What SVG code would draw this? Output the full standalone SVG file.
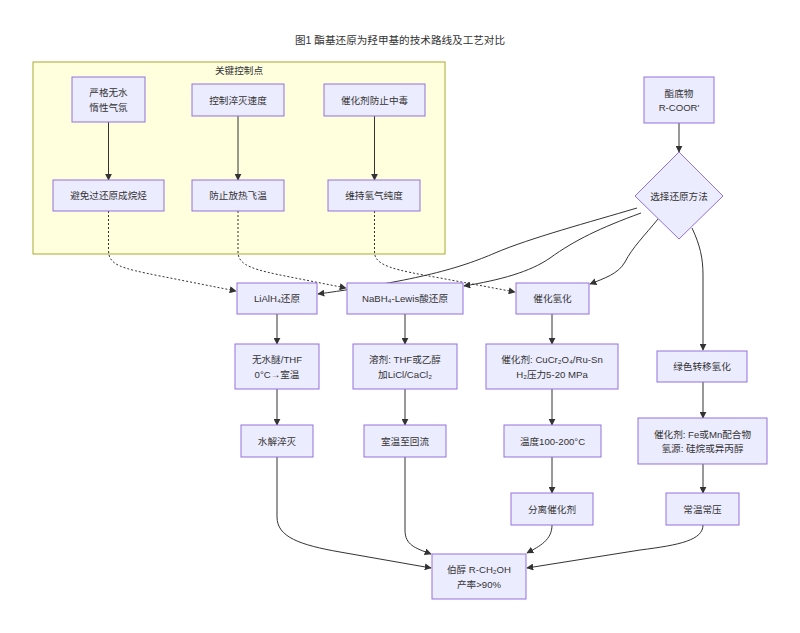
<svg xmlns="http://www.w3.org/2000/svg" width="800" height="633" viewBox="0 0 800 633">
<defs>
<marker id="arr" viewBox="0 0 10 10" refX="9" refY="5" markerWidth="7" markerHeight="7" markerUnits="userSpaceOnUse" orient="auto">
<path d="M0,0 L10,5 L0,10 z" fill="#333333"/>
</marker>
</defs>
<style>
text{font-family:"Liberation Sans","Noto Sans CJK SC",sans-serif;font-size:9.6px;fill:#333333;text-anchor:middle;dominant-baseline:central}
.title{font-size:10.6px}
.node rect,.node polygon{fill:#ECECFF;stroke:#9370DB;stroke-width:1}
.cluster{fill:#ffffde;stroke:#aaaa33;stroke-width:1}
.edge{fill:none;stroke:#333333;stroke-width:1;marker-end:url(#arr)}
.dot{stroke-dasharray:2 2}
</style>
<rect width="800" height="633" fill="#ffffff"/>
<text class="title" x="400" y="40">图1 酯基还原为羟甲基的技术路线及工艺对比</text>
<g id="cluster-key">
<rect class="cluster" x="33" y="62" width="412" height="192"/>
<text x="239" y="70">关键控制点</text>
</g>
<g id="connectors">
<path class="edge" d="M108.5,122 V180"/>
<path class="edge" d="M238,116 V180"/>
<path class="edge" d="M374.5,116 V180"/>
<path class="edge" d="M679,123 V152"/>
<path class="edge dot" d="M108.5,211 V250 C108.5,265 120,268 160,276 L236,291"/>
<path class="edge dot" d="M238,211 V252 C238,266 255,270 290,277 L346,288"/>
<path class="edge dot" d="M374.5,211 V252 C374.5,266 395,270 440,278 L515,292"/>
<path class="edge" d="M637,208 C590,222 530,238 495,253 C460,268 420,280 318,294"/>
<path class="edge" d="M641,213 C600,228 575,240 550,258 C530,272 500,280 464,286"/>
<path class="edge" d="M658,219 C645,235 632,248 625,262 C618,274 605,278 590,284"/>
<path class="edge" d="M692,228 C700,245 703,258 703,275 L703,350"/>
<path class="edge" d="M277,314 V344"/>
<path class="edge" d="M277,389 V425"/>
<path class="edge" d="M405,314 V344"/>
<path class="edge" d="M405,389 V425"/>
<path class="edge" d="M552,314 V344"/>
<path class="edge" d="M552,389 V425"/>
<path class="edge" d="M552,457 V493"/>
<path class="edge" d="M703,382 V418"/>
<path class="edge" d="M703,464 V493"/>
<path class="edge" d="M277,457 V517 C277,537 300,545 340,552 L431,568"/>
<path class="edge" d="M405,457 V530 C405,545 415,548 431,554"/>
<path class="edge" d="M552,525 C552,540 540,546 527,553"/>
<path class="edge" d="M703,525 C703,540 680,545 640,550 L527,568"/>
</g>
<g id="n-anhydrous" class="node"><rect x="72" y="77" width="73" height="45"/><text x="108.5" y="92">严格无水</text><text x="108.5" y="107">惰性气氛</text></g>
<g id="n-quench-rate" class="node"><rect x="192" y="84" width="92" height="32"/><text x="238" y="100">控制淬灭速度</text></g>
<g id="n-poison" class="node"><rect x="324" y="84" width="101" height="32"/><text x="374.5" y="100">催化剂防止中毒</text></g>
<g id="n-overred" class="node"><rect x="53" y="180" width="111" height="31"/><text x="108.5" y="195.5">避免过还原成烷烃</text></g>
<g id="n-exotherm" class="node"><rect x="192" y="180" width="92" height="31"/><text x="238" y="195.5">防止放热飞温</text></g>
<g id="n-h2purity" class="node"><rect x="328" y="180" width="92" height="31"/><text x="374" y="195.5">维持氢气纯度</text></g>
<g id="n-ester" class="node"><rect x="644" y="77" width="70" height="46"/><text x="679" y="93">酯底物</text><text x="679" y="107">R-COOR'</text></g>
<g id="n-choose" class="node"><polygon points="679,152 723,196 679,239 635,196"/><text x="679" y="196">选择还原方法</text></g>
<g id="n-lialh4" class="node"><rect x="237" y="283" width="80" height="31"/><text x="277" y="298.5">LiAlH₄还原</text></g>
<g id="n-nabh4" class="node"><rect x="347" y="283" width="116" height="31"/><text x="405" y="298.5">NaBH₄-Lewis酸还原</text></g>
<g id="n-hydrog" class="node"><rect x="516" y="283" width="73" height="31"/><text x="552.5" y="298.5">催化氢化</text></g>
<g id="n-green" class="node"><rect x="657" y="351" width="90" height="31"/><text x="702" y="366.5">绿色转移氢化</text></g>
<g id="n-ether" class="node"><rect x="235" y="344" width="84" height="45"/><text x="277" y="359">无水醚/THF</text><text x="277" y="374">0°C→室温</text></g>
<g id="n-solvent" class="node"><rect x="353" y="344" width="104" height="45"/><text x="405" y="359">溶剂: THF或乙醇</text><text x="405" y="374">加LiCl/CaCl₂</text></g>
<g id="n-catcu" class="node"><rect x="486" y="344" width="132" height="45"/><text x="552" y="359">催化剂: CuCr₂O₄/Ru-Sn</text><text x="552" y="374">H₂压力5-20 MPa</text></g>
<g id="n-catfe" class="node"><rect x="638" y="418" width="129" height="46"/><text x="702.5" y="434">催化剂: Fe或Mn配合物</text><text x="702.5" y="448">氢源: 硅烷或异丙醇</text></g>
<g id="n-hydrolysis" class="node"><rect x="241" y="425" width="72" height="32"/><text x="277" y="441">水解淬灭</text></g>
<g id="n-reflux" class="node"><rect x="364" y="425" width="82" height="32"/><text x="405" y="441">室温至回流</text></g>
<g id="n-temp" class="node"><rect x="504" y="425" width="97" height="32"/><text x="552.5" y="441">温度100-200°C</text></g>
<g id="n-sepcat" class="node"><rect x="511" y="493" width="82" height="32"/><text x="552" y="509">分离催化剂</text></g>
<g id="n-ambient" class="node"><rect x="666" y="493" width="73" height="32"/><text x="702.5" y="509">常温常压</text></g>
<g id="n-alcohol" class="node"><rect x="432" y="554" width="94" height="45"/><text x="479" y="569">伯醇 R-CH₂OH</text><text x="479" y="584">产率&gt;90%</text></g>
</svg>
